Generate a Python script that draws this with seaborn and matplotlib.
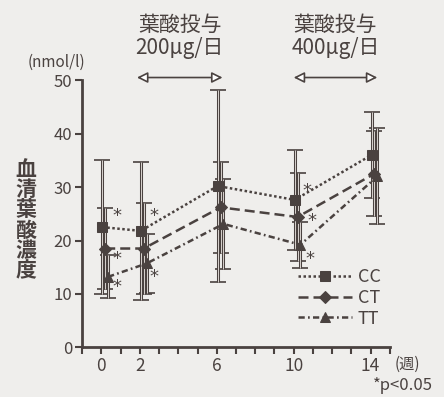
import numpy as np
import pandas as pd
import matplotlib
matplotlib.use("Agg")
import matplotlib.pyplot as plt
import seaborn as sns

# values (nmol/l, mean and SD)
weeks = [0, 2, 6, 10, 14]
genotypes = ["CC", "CT", "TT"]
cc_mean = [22.5, 21.8, 30.2, 27.6, 36.0]
cc_sd = [12.5, 12.9, 18.0, 9.3, 8.1]
ct_mean = [18.5, 18.5, 26.2, 24.4, 32.5]
ct_sd = [7.5, 8.6, 8.5, 8.2, 8.0]
tt_mean = [13.2, 15.7, 23.1, 19.2, 32.0]
tt_sd = [4.0, 5.5, 8.4, 4.3, 9.0]
x_shift = {"CC": 0.05, "CT": 0.2, "TT": 0.35}

tick_labels = {0: "0", 2: "2", 6: "6", 10: "10", 14: "14"}

# significance stars (week position, value)
star_x = [0.8, 0.8, 0.8, 2.75, 2.75, 10.7, 10.95, 10.85]
star_y = [24.5, 16.5, 11.3, 24.5, 13.2, 29.3, 23.7, 16.5]

# dosing periods
dose_text = ["葉酸投与\n200μg/日", "葉酸投与\n400μg/日"]
dose_span = [(1.85, 6.3), (10.0, 14.35)]

dark = "#4a4240"
light = "#d9d3cf"
bg = "#efeeec"

means = {"CC": cc_mean, "CT": ct_mean, "TT": tt_mean}
sds = {"CC": cc_sd, "CT": ct_sd, "TT": tt_sd}

rows = []
for g in genotypes:
    for w, m, s in zip(weeks, means[g], sds[g]):
        rows.append({"x": w + x_shift[g], "value": m, "sd": s, "genotype": g})
df = pd.DataFrame(rows)

sns.set_style("ticks")
plt.rcParams["font.family"] = ["Noto Sans CJK JP", "DejaVu Sans"]
plt.rcParams["text.color"] = dark
plt.rcParams["axes.labelcolor"] = dark
plt.rcParams["xtick.color"] = dark
plt.rcParams["ytick.color"] = dark

fig = plt.figure(figsize=(4.44, 3.97), dpi=100, facecolor=bg)
ax = fig.add_axes([0.185, 0.125, 0.693, 0.673])
ax.set_facecolor(bg)

# error bars: dark outline with light core
for g in genotypes:
    d = df[df.genotype == g]
    ax.errorbar(d.x, d.value, yerr=d.sd, fmt="none", ecolor=dark,
                elinewidth=2.2, capsize=6, capthick=1.2, zorder=2)
    ax.vlines(d.x, d.value - d.sd, d.value + d.sd, color=light,
              linewidth=0.7, zorder=2.5)

sns.lineplot(data=df, x="x", y="value", style="genotype",
             markers={"CC": "s", "CT": "D", "TT": "^"},
             dashes={"CC": (1, 1), "CT": (4, 2), "TT": (2.5, 1.3, 0.7, 1.3)},
             color=dark, linewidth=1.8, markersize=6.5,
             markeredgecolor=dark, ax=ax, zorder=3)

for sx, sy in zip(star_x, star_y):
    ax.text(sx, sy, "*", ha="center", va="center", fontsize=13, color=dark,
            family="DejaVu Sans")

ax.set_xlim(-1, 15)
ax.set_ylim(0, 50)
ax.set_xticks(range(-1, 16))
ax.set_xticklabels([tick_labels.get(t, "") for t in range(-1, 16)], fontsize=12.5)
ax.set_yticks(range(0, 51, 10))
ax.set_yticklabels([str(v) for v in range(0, 51, 10)], fontsize=12)
ax.tick_params(axis="both", width=1.5, length=5, pad=2)
ax.set_xlabel("")
ax.set_ylabel("")
for side in ["top", "right"]:
    ax.spines[side].set_visible(False)
for side in ["left", "bottom"]:
    ax.spines[side].set_linewidth(2)
    ax.spines[side].set_color(dark)

handles, labels = ax.get_legend_handles_labels()
ax.legend(handles, labels, loc="lower right", bbox_to_anchor=(1.0, 0.04),
          frameon=False, fontsize=13, handlelength=3.0, handletextpad=0.3,
          labelspacing=0.15, borderpad=0)

for txt, (x0, x1) in zip(dose_text, dose_span):
    ax.annotate("", xy=(x0, 50.5), xytext=(x1, 50.5), annotation_clip=False,
                arrowprops=dict(arrowstyle="<|-|>", color=dark, fc="white",
                                lw=1.2, mutation_scale=16, shrinkA=0, shrinkB=0))
    ax.text((x0 + x1) / 2, 54, txt, ha="center", va="bottom", fontsize=15,
            linespacing=1.05)

fig.text(56 / 444, 1 - 62 / 397, "(nmol/l)", ha="center", va="center", fontsize=11)
fig.text(26 / 444, 1 - 220 / 397, "\n".join("血清葉酸濃度"), ha="center",
         va="center", fontsize=15, fontweight="bold", linespacing=0.95)
fig.text(407 / 444, 1 - 364 / 397, "(週)", ha="center", va="center", fontsize=11)
fig.text(433 / 444, 1 - 385 / 397, "*p<0.05", ha="right", va="center", fontsize=12)

fig.savefig("out.png", dpi=100, facecolor=bg)
